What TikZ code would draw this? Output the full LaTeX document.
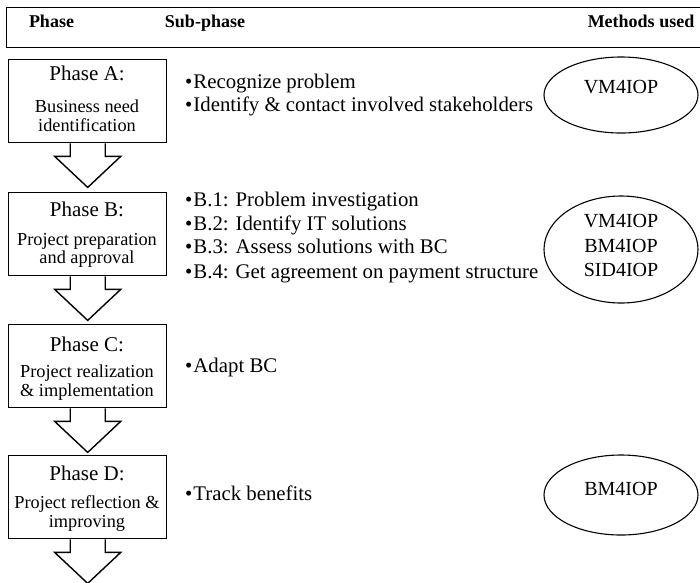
\documentclass[tikz,border=0pt]{standalone}
\usepackage{fontspec}
\setmainfont{Liberation Serif}
\usetikzlibrary{shapes.geometric,calc}
\begin{document}
\begin{tikzpicture}[x=1pt,y=-1pt,
  phasebox/.style={draw,line width=1.4pt,minimum width=158pt,minimum height=83pt,anchor=north west,inner sep=0pt},
  methodoval/.style={draw,ellipse,line width=1.1pt,minimum width=154pt,inner sep=0pt},
  ptitle/.style={anchor=base,inner sep=0pt,font=\fontsize{21}{24}\selectfont},
  psub/.style={anchor=base,inner sep=0pt,font=\fontsize{18.3}{20}\selectfont},
  item/.style={anchor=base west,inner sep=0pt,font=\fontsize{20.8}{24}\selectfont},
  mtext/.style={anchor=base,inner sep=0pt,font=\fontsize{20}{24}\selectfont},
  head/.style={anchor=base,inner sep=0pt,font=\bfseries\fontsize{18}{20}\selectfont},
  flow/.style={draw,line width=1.4pt,line join=miter}]
\useasboundingbox (0,0) rectangle (700,582);

% header bar
\node (header) [draw,line width=1.2pt,anchor=north west,minimum width=710pt,minimum height=40pt,inner sep=0pt] at (6,7) {};
\node (hphase) [head] at (51.5,27) {Phase};
\node (hsub)   [head] at (205,27) {Sub-phase};
\node (hmeth)  [head] at (641,27) {Methods used};

% phase boxes
\node (A) [phasebox] at (8,59) {};
\node (B) [phasebox] at (8,192) {};
\node (C) [phasebox] at (8,324) {};
\node (D) [phasebox] at (8,455) {};

\node (At)  [ptitle] at (87,80)  {Phase A:};
\node (As1) [psub]   at (87,112) {Business need};
\node (As2) [psub]   at (87,131) {identification};

\node (Bt)  [ptitle] at (87,216) {Phase B:};
\node (Bs1) [psub]   at (87,245) {Project preparation};
\node (Bs2) [psub]   at (87,263) {and approval};

\node (Ct)  [ptitle] at (87,351) {Phase C:};
\node (Cs1) [psub]   at (87,377) {Project realization};
\node (Cs2) [psub]   at (87,396) {\& implementation};

\node (Dt)  [ptitle] at (87,480) {Phase D:};
\node (Ds1) [psub]   at (87,508) {Project reflection \&};
\node (Ds2) [psub]   at (87,527) {improving};

% block arrows below each box
\foreach \b in {A,B,C,D}{
  \draw[flow] ($(\b.south)+(-17.5,0)$) -- ++(0,13) -- ++(-15.5,0)
     -- ($(\b.south)+(0,44)$) -- ($(\b.south)+(33,13)$) -- ++(-15.5,0) -- ($(\b.south)+(17.5,0)$);
}

% sub-phases
\newcommand{\itm}{\textbullet\kern1pt}
\node (a1) [item] at (185,88)  {\itm Recognize problem};
\node (a2) [item] at (185,111) {\itm Identify \& contact involved stakeholders};
\node (b1) [item] at (185,206) {\itm B.1: Problem investigation};
\node (b2) [item] at (185,230) {\itm B.2: Identify IT solutions};
\node (b3) [item] at (185,253) {\itm B.3: Assess solutions with BC};
\node (b4) [item] at (185,278) {\itm B.4: Get agreement on payment structure};
\node (c1) [item] at (185,372) {\itm Adapt BC};
\node (d1) [item] at (185,500) {\itm Track benefits};

% methods
\node (mA) [methodoval,minimum height=76pt]  at (621,95)  {};
\node (mB) [methodoval,minimum height=107pt] at (621,249.5) {};
\node (mD) [methodoval,minimum height=80pt]  at (621,495) {};

\node (mA1) [mtext] at (621,93)  {VM4IOP};
\node (mB1) [mtext] at (621,227) {VM4IOP};
\node (mB2) [mtext] at (621,252) {BM4IOP};
\node (mB3) [mtext] at (621,276) {SID4IOP};
\node (mD1) [mtext] at (621,495) {BM4IOP};
\end{tikzpicture}
\end{document}
